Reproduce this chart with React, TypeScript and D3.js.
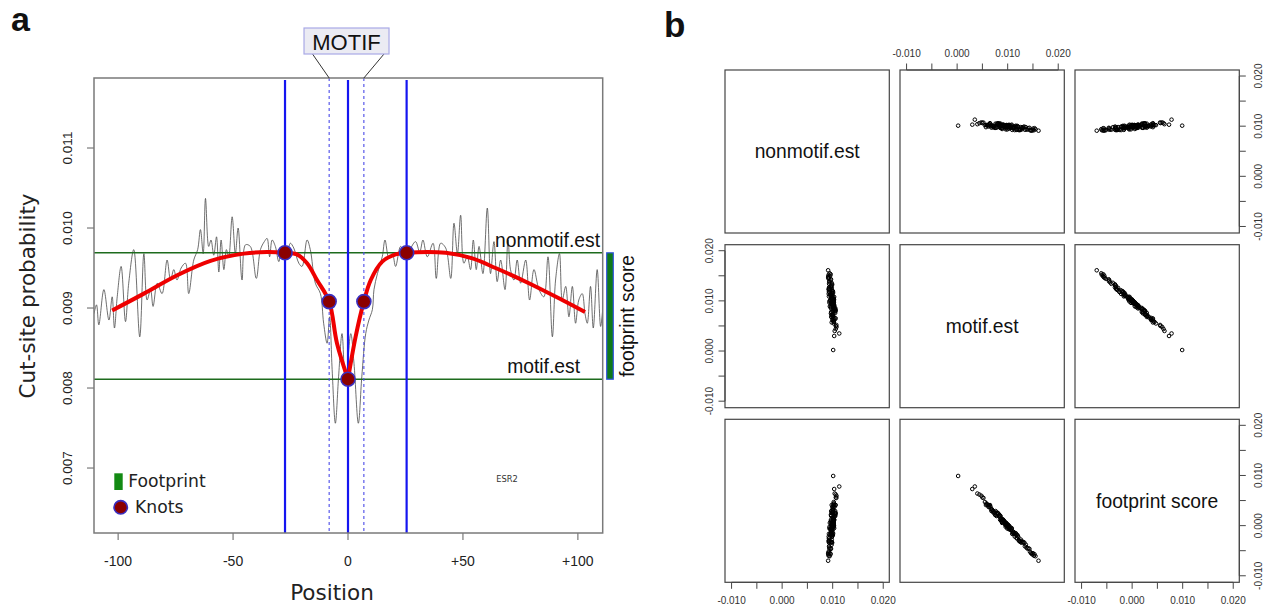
import React from 'react';
import * as d3 from 'd3';

// ---------- Panel a data ----------
const grayPos = [
  -110.5, -109.4, -108.4, -106.2, -104.0, -102.6, -101.6, -100.4, -98.7, -96.8, -95.4, -93.2, -90.6, -88.8, -87.4, -85.9,
  -84.8, -83.0, -80.9, -78.7, -77.2, -75.8, -74.4, -72.6, -70.7, -69.3, -67.1, -65.4, -64.2, -63.0, -62.0, -60.6,
  -59.6, -58.4, -57.2, -56.2, -55.2, -54.0, -52.9, -51.9, -50.4, -49.0, -47.8, -46.1, -44.6, -42.5, -39.9, -38.1,
  -36.4, -35.2, -34.1, -33.0, -31.6, -30.1, -28.7, -26.5, -25.1, -23.6, -21.4, -20.0, -17.8, -16.4, -14.2, -12.0,
  -10.6, -9.1, -8.0, -6.9, -5.5, -4.1, -2.6, -1.1,
  1.2, 2.6, 4.5, 6.0, 7.7, 9.1, 10.6, 11.3, 12.8, 14.9, 16.1, 17.8, 19.3, 20.7, 22.9, 25.1, 27.3, 29.4, 31.2, 32.6,
  34.5, 37.0, 38.4, 40.3, 42.5, 44.7, 46.1, 47.6, 49.0, 50.4, 51.9, 53.3, 54.5, 55.8, 57.0, 58.7, 60.6, 62.0, 63.5,
  64.9, 66.4, 68.3, 69.6, 70.7, 72.2, 73.6, 75.1, 77.3, 79.0, 80.9, 83.1, 85.2, 87.0, 88.9, 90.3, 92.0, 93.2, 94.7,
  96.1, 97.6, 99.0, 100.4, 101.9, 103.1, 104.1, 105.5, 106.7, 108.4, 109.9, 110.8,
];
const grayVal = [
  0.00893, 0.00904, 0.00879, 0.00923, 0.00885, 0.00914, 0.00875, 0.00914, 0.00952, 0.00883, 0.00931, 0.00973, 0.00864,
  0.00968, 0.0091, 0.00923, 0.00902, 0.00931, 0.00918, 0.0096, 0.00935, 0.00948, 0.00935, 0.0095, 0.00956, 0.00918,
  0.0096, 0.00973, 0.00998, 0.00968, 0.01037, 0.00977, 0.00985, 0.00966, 0.00989, 0.00945, 0.00985, 0.00948, 0.00973,
  0.00964, 0.01014, 0.00968, 0.01, 0.00935, 0.00979, 0.00977, 0.00937, 0.00973, 0.00983, 0.00987, 0.00964, 0.00985,
  0.00977, 0.00958, 0.00975, 0.0097, 0.00981, 0.00975, 0.00956, 0.00952, 0.00985, 0.00973, 0.00931, 0.00918, 0.00881,
  0.00856, 0.00889, 0.00823, 0.00756, 0.00814, 0.00868, 0.00805,
  0.00868, 0.00831, 0.00756, 0.00814, 0.00868, 0.00885, 0.00898, 0.00923, 0.00943, 0.00964, 0.00985, 0.00962, 0.00968,
  0.00952, 0.00977, 0.00964, 0.00975, 0.00983, 0.0097, 0.00985, 0.00964, 0.00981, 0.00937, 0.00981, 0.00975, 0.00937,
  0.01006, 0.00968, 0.01016, 0.00956, 0.00964, 0.00948, 0.00985, 0.00948, 0.00977, 0.00943, 0.01025, 0.00943, 0.00983,
  0.00933, 0.0096, 0.00923, 0.00985, 0.00948, 0.00935, 0.0096, 0.00931, 0.0096, 0.0091, 0.00948, 0.00923, 0.00914,
  0.00964, 0.00864, 0.00935, 0.00968, 0.0091, 0.00927, 0.00889, 0.00927, 0.00881, 0.0091, 0.00918, 0.00893, 0.00881,
  0.00927, 0.00875, 0.00948, 0.00877, 0.00898,
];
const redPos = [-102.6, -88.8, -74.3, -59.8, -45.4, -35.2, -27.4, -22.2, -17.8, -13.5, -8.2, -4.8, 0, 3.3, 6.9, 9.9, 14.9, 20.7, 25.5, 42.5, 54.1, 64.2, 78.7, 93.2, 103.1];
const redVal = [0.00897, 0.00918, 0.00941, 0.00959, 0.00968, 0.0097, 0.00969, 0.00967, 0.00956, 0.00935, 0.00908, 0.00856, 0.00811, 0.00864, 0.00908, 0.00935, 0.00958, 0.00967, 0.00969, 0.00969, 0.00962, 0.0095, 0.00931, 0.0091, 0.00895];
const knotPos = [-27.4, -8.2, 0, 6.9, 25.5];
const knotVal = [0.00969, 0.00908, 0.00811, 0.00908, 0.00969];
const motifBounds = [-8.2, 6.9];
const nonmotifEst = 0.00969;
const motifEst = 0.00811;
const posTicks = [-100, -50, 0, 50, 100];
const posTickLabels = ['-100', '-50', '0', '+50', '+100'];
const probTicks = [0.007, 0.008, 0.009, 0.01, 0.011];
const probTickLabels = ['0.007', '0.008', '0.009', '0.010', '0.011'];

// ---------- Panel b data (units of 1e-4) ----------
const motifVals = [
  95, 102, 88, 110, 79, 97, 121, 68, 105, 92, 134, 84, 99, 115, 73, 90, 127, 101, 61, 108, 94, 118, 86, 139, 76, 98,
  112, 57, 103, 91, 125, 82, 96, 143, 70, 107, 89, 119, 64, 100, 131, 78, 93, 113, 52, 104, 87, 122, 74, 97, 146, 81,
  109, 66, 95, 128, 85, 116, 59, 101, 136, 72, 92, 111, 48, 106, 83, 124, 69, 99, 149, 80, 114, 63, 96, 130, 77, 105,
  55, 90, 120, 87, 141, 67, 103, 94, 117, 75, 98, 133, 62, 108, 89, 126, 71, 100, 147, 84, 112, 50, 93, 123, 79, 137,
  65, 102, 91, 118, 58, 97, 144, 86, 2, 161, 35, 30, 152, 155, 40, 44, 150, 153,
];
const nonmotifVals = [
  101.6, 95.0, 100.5, 96.0, 104.7, 97.9, 98.4, 97.1, 98.1, 102.7, 92.9, 105.1, 93.5, 99.2, 99.6, 100.0, 93.0, 102.2,
  101.6, 100.9, 101.7, 93.5, 100.7, 93.3, 105.0, 97.8, 99.2, 98.1, 98.3, 102.8, 93.7, 105.3, 93.8, 96.7, 99.9, 98.4,
  96.4, 100.5, 101.3, 101.7, 98.4, 97.1, 100.1, 95.7, 107.2, 97.3, 101.4, 92.3, 100.9, 102.2, 91.8, 105.4, 92.6, 103.6,
  97.6, 96.5, 96.8, 100.8, 101.7, 101.6, 97.9, 97.7, 100.2, 95.9, 107.5, 97.1, 101.8, 92.1, 101.3, 102.0, 91.5, 105.5,
  92.2, 103.9, 97.5, 96.4, 97.5, 101.8, 102.1, 102.6, 99.4, 96.3, 95.8, 99.8, 102.6, 98.2, 98.7, 96.5, 98.7, 99.0,
  99.4, 102.9, 94.4, 98.2, 99.8, 99.1, 91.2, 103.7, 97.0, 106.2, 101.8, 93.1, 101.3, 93.5, 106.0, 97.5, 101.1, 92.6,
  102.3, 102.2, 92.0, 104.9, 101, 91, 113, 103, 92, 94, 104, 106, 95, 96,
];
const footprintVals = [
  6.6, -7.0, 12.5, -14.0, 25.7, 0.9, -22.6, 29.1, -6.9, 10.7, -41.1, 21.1, -5.5, -15.8, 26.6, 10.0, -34.0, 1.2, 40.6,
  -7.1, 7.7, -24.5, 14.7, -45.7, 29.0, -0.2, -12.8, 41.1, -4.7, 11.8, -31.3, 23.3, -2.2, -46.3, 29.9, -8.6, 7.4, -18.5,
  37.3, 1.7, -32.6, 19.1, 7.1, -17.3, 55.2, -6.7, 14.4, -29.7, 26.9, 5.2, -54.2, 24.4, -16.4, 37.6, 2.6, -31.5, 11.8,
  -15.2, 42.7, 0.6, -38.1, 25.7, 8.2, -15.1, 59.5, -8.9, 18.8, -31.9, 32.3, 3.0, -57.5, 25.5, -21.8, 40.9, 1.5, -33.6,
  20.5, -3.2, 47.1, 12.6, -20.6, 9.3, -45.2, 32.8, -0.4, 4.2, -18.3, 21.5, 0.7, -34.0, 37.4, -5.1, 5.4, -27.8, 28.8,
  -0.9, -55.8, 19.7, -15.0, 56.2, 8.8, -29.9, 22.3, -43.5, 41.0, -4.5, 10.1, -25.4, 44.3, 5.2, -52.0, 18.9, 99, -70, 78,
  73, -60, -61, 64, 62, -55, -57,
];
const pairNames = ['nonmotif.est', 'motif.est', 'footprint score'];
const pairTicks = [-0.01, -0.005, 0, 0.005, 0.01, 0.015, 0.02];
const pairLabelTicks = [-0.01, 0, 0.01, 0.02];
const pairTickLabels = ['-0.010', '0.000', '0.010', '0.020'];

const SANS = 'Liberation Sans, Arial, sans-serif';
const DJV = 'DejaVu Sans, sans-serif';

function PanelA() {
  const x = d3.scaleLinear().domain([-110.5, 110.8]).range([94, 602.7]);
  const y = d3.scaleLinear().domain([0.006188, 0.011875]).range([533, 78]);
  const [x0, x1] = x.range();
  const [yb, yt] = y.range();

  const gray = d3
    .line<number>()
    .x((_, i) => x(grayPos[i]))
    .y((d) => y(d))
    .curve(d3.curveCatmullRom.alpha(0.5))(grayVal);

  const redIdx = redPos.map((_, i) => i);
  const redLine = d3
    .line<number>()
    .x((i) => x(redPos[i]))
    .y((i) => y(redVal[i]))
    .curve(d3.curveCatmullRom.alpha(0.5));
  const redLeft = redLine(redIdx.filter((i) => redPos[i] <= 0));
  const redRight = redLine(redIdx.filter((i) => redPos[i] >= 0));

  const solidLines = [knotPos[0], 0, knotPos[4]];
  const motifMid = (x(motifBounds[0]) + x(motifBounds[1])) / 2;
  const boxL = motifMid - 42.5;
  const boxR = motifMid + 42.5;

  return (
    <g>
      <defs>
        <clipPath id="clipA">
          <rect x={x0} y={yt} width={x1 - x0} height={yb - yt} />
        </clipPath>
      </defs>
      <text x={11} y={31} fontFamily={SANS} fontWeight="bold" fontSize={34} fill="#111">a</text>

      {/* gray cut-site profile */}
      <path d={gray || ''} fill="none" stroke="#4a4a4a" strokeWidth={0.8} clipPath="url(#clipA)" />

      {/* estimates */}
      <line x1={x0} x2={x1} y1={y(nonmotifEst)} y2={y(nonmotifEst)} stroke="#1d6b1d" strokeWidth={1.6} />
      <line x1={x0} x2={x1} y1={y(motifEst)} y2={y(motifEst)} stroke="#1d6b1d" strokeWidth={1.6} />

      {/* vertical lines */}
      {solidLines.map((p, i) => (
        <line key={'s' + i} x1={x(p)} x2={x(p)} y1={yt + 2} y2={yb} stroke="#1515f0" strokeWidth={2.2} />
      ))}
      {motifBounds.map((p, i) => (
        <line key={'d' + i} x1={x(p)} x2={x(p)} y1={yt} y2={yb} stroke="#4a4ae8" strokeWidth={1.1} strokeDasharray="3,3" />
      ))}

      {/* red spline */}
      <path d={redLeft || ''} fill="none" stroke="#ee0000" strokeWidth={4} strokeLinejoin="round" />
      <path d={redRight || ''} fill="none" stroke="#ee0000" strokeWidth={4} strokeLinejoin="round" />

      {/* knots */}
      {knotPos.map((p, i) => (
        <circle key={'k' + i} cx={x(p)} cy={y(knotVal[i])} r={7} fill="#8b0000" stroke="#3a2fc0" strokeWidth={1.6} />
      ))}

      {/* box */}
      <rect x={x0} y={yt} width={x1 - x0} height={yb - yt} fill="none" stroke="#7a7a7a" strokeWidth={1.5} />

      {/* x axis */}
      {posTicks.map((t, i) => (
        <g key={'xt' + i}>
          <line x1={x(t)} x2={x(t)} y1={yb} y2={yb + 7} stroke="#7a7a7a" strokeWidth={1.2} />
          <text x={x(t)} y={565.5} textAnchor="middle" fontFamily={SANS} fontSize={14} fill="#222">
            {posTickLabels[i]}
          </text>
        </g>
      ))}
      <text x={332} y={600} textAnchor="middle" fontFamily={DJV} fontSize={21.5} fill="#222">Position</text>

      {/* y axis */}
      {probTicks.map((t, i) => (
        <g key={'yt' + i}>
          <line x1={x0 - 7} x2={x0} y1={y(t)} y2={y(t)} stroke="#7a7a7a" strokeWidth={1.2} />
          <text
            transform={`translate(72,${y(t)}) rotate(-90)`}
            textAnchor="middle"
            fontFamily={SANS}
            fontSize={13.5}
            fill="#222"
          >
            {probTickLabels[i]}
          </text>
        </g>
      ))}
      <text transform="translate(35,296) rotate(-90)" textAnchor="middle" fontFamily={DJV} fontSize={21.5} fill="#222">
        Cut-site probability
      </text>

      {/* labels of estimates */}
      <text x={600} y={246.5} textAnchor="end" fontFamily={SANS} fontSize={19.3} fill="#111">nonmotif.est</text>
      <text x={580} y={373.3} textAnchor="end" fontFamily={SANS} fontSize={19.3} fill="#111">motif.est</text>

      {/* footprint score bar */}
      <rect
        x={606.7}
        y={y(nonmotifEst)}
        width={6.6}
        height={y(motifEst) - y(nonmotifEst)}
        fill="#0f7a1a"
        stroke="#3355e0"
        strokeWidth={1.2}
      />
      <text
        transform={`translate(634,${(y(nonmotifEst) + y(motifEst)) / 2}) rotate(-90)`}
        textAnchor="middle"
        fontFamily={SANS}
        fontSize={19.3}
        fill="#111"
      >
        footprint score
      </text>

      {/* MOTIF callout */}
      <line x1={boxL + 8.5} y1={54} x2={x(motifBounds[0])} y2={yt} stroke="#333" strokeWidth={1} />
      <line x1={boxR - 5} y1={54} x2={x(motifBounds[1])} y2={yt} stroke="#333" strokeWidth={1} />
      <rect x={boxL} y={28} width={boxR - boxL} height={26} fill="#ebebf3" stroke="#a9a9e6" strokeWidth={1.2} />
      <text x={motifMid} y={49.5} textAnchor="middle" fontFamily={SANS} fontSize={22} fill="#111">MOTIF</text>

      {/* ESR2 */}
      <text x={507} y={481.5} textAnchor="middle" fontFamily={DJV} fontSize={8.3} fill="#333">ESR2</text>

      {/* legend */}
      <rect x={114.3} y={473.3} width={8.4} height={16.7} fill="#138a13" />
      <text x={128.3} y={487.3} fontFamily={DJV} fontSize={17.2} fill="#222">Footprint</text>
      <circle cx={120.7} cy={507.3} r={6.7} fill="#8b0000" stroke="#3a2fc0" strokeWidth={1.6} />
      <text x={135} y={513.3} fontFamily={DJV} fontSize={17.2} fill="#222">Knots</text>
    </g>
  );
}

function PanelB() {
  const vars = [nonmotifVals, motifVals, footprintVals].map((arr) => arr.map((v) => v * 1e-4));
  const colX = [725, 900, 1075];
  const rowY = [70, 244.7, 419.3];
  const cw = 164.3;
  const ch = 163;
  const dom: [number, number] = [-0.0113, 0.0212];
  const cells: JSX.Element[] = [];
  for (let r = 0; r < 3; r++) {
    for (let c = 0; c < 3; c++) {
      const sx = d3.scaleLinear().domain(dom).range([colX[c], colX[c] + cw]);
      const sy = d3.scaleLinear().domain(dom).range([rowY[r] + ch, rowY[r]]);
      const key = `${r}-${c}`;
      cells.push(
        <g key={key}>
          <rect x={colX[c]} y={rowY[r]} width={cw} height={ch} fill="none" stroke="#454545" strokeWidth={1.2} />
          {r === c ? (
            <text
              x={colX[c] + cw / 2}
              y={rowY[r] + ch / 2 + 6.8}
              textAnchor="middle"
              fontFamily={SANS}
              fontSize={19.3}
              fill="#111"
            >
              {pairNames[r]}
            </text>
          ) : (
            vars[c].map((v, i) => (
              <circle key={i} cx={sx(v)} cy={sy(vars[r][i])} r={1.8} fill="none" stroke="#000" strokeWidth={1} />
            ))
          )}
        </g>
      );
    }
  }

  const axes: JSX.Element[] = [];
  // top axis (column 2)
  {
    const sx = d3.scaleLinear().domain(dom).range([colX[1], colX[1] + cw]);
    const y0 = rowY[0];
    axes.push(
      <g key="top">
        <line x1={sx(pairTicks[0])} x2={sx(pairTicks[pairTicks.length - 1])} y1={y0} y2={y0} stroke="#454545" />
        {pairTicks.map((t, i) => (
          <line key={i} x1={sx(t)} x2={sx(t)} y1={y0} y2={y0 - 6.5} stroke="#454545" strokeWidth={1} />
        ))}
        {pairLabelTicks.map((t, i) => (
          <text key={'l' + i} x={sx(t)} y={56.7} textAnchor="middle" fontFamily={SANS} fontSize={10} fill="#333">
            {pairTickLabels[i]}
          </text>
        ))}
      </g>
    );
  }
  // bottom axes (columns 1 and 3)
  [0, 2].forEach((c) => {
    const sx = d3.scaleLinear().domain(dom).range([colX[c], colX[c] + cw]);
    const y0 = rowY[2] + ch;
    axes.push(
      <g key={'bot' + c}>
        <line x1={sx(pairTicks[0])} x2={sx(pairTicks[pairTicks.length - 1])} y1={y0} y2={y0} stroke="#454545" />
        {pairTicks.map((t, i) => (
          <line key={i} x1={sx(t)} x2={sx(t)} y1={y0} y2={y0 + 6.5} stroke="#454545" strokeWidth={1} />
        ))}
        {pairLabelTicks.map((t, i) => (
          <text key={'l' + i} x={sx(t)} y={604} textAnchor="middle" fontFamily={SANS} fontSize={10} fill="#333">
            {pairTickLabels[i]}
          </text>
        ))}
      </g>
    );
  });
  // left axis (row 2)
  {
    const sy = d3.scaleLinear().domain(dom).range([rowY[1] + ch, rowY[1]]);
    const x0 = colX[0];
    axes.push(
      <g key="left">
        <line x1={x0} x2={x0} y1={sy(pairTicks[0])} y2={sy(pairTicks[pairTicks.length - 1])} stroke="#454545" />
        {pairTicks.map((t, i) => (
          <line key={i} x1={x0} x2={x0 - 6.5} y1={sy(t)} y2={sy(t)} stroke="#454545" strokeWidth={1} />
        ))}
        {pairLabelTicks.map((t, i) => (
          <text
            key={'l' + i}
            transform={`translate(712.7,${sy(t)}) rotate(-90)`}
            textAnchor="middle"
            fontFamily={SANS}
            fontSize={10}
            fill="#333"
          >
            {pairTickLabels[i]}
          </text>
        ))}
      </g>
    );
  }
  // right axes (rows 1 and 3)
  [0, 2].forEach((r) => {
    const sy = d3.scaleLinear().domain(dom).range([rowY[r] + ch, rowY[r]]);
    const x0 = colX[2] + cw;
    axes.push(
      <g key={'right' + r}>
        <line x1={x0} x2={x0} y1={sy(pairTicks[0])} y2={sy(pairTicks[pairTicks.length - 1])} stroke="#454545" />
        {pairTicks.map((t, i) => (
          <line key={i} x1={x0} x2={x0 + 6.5} y1={sy(t)} y2={sy(t)} stroke="#454545" strokeWidth={1} />
        ))}
        {pairLabelTicks.map((t, i) => (
          <text
            key={'l' + i}
            transform={`translate(1261.5,${sy(t)}) rotate(-90)`}
            textAnchor="middle"
            fontFamily={SANS}
            fontSize={10}
            fill="#333"
          >
            {pairTickLabels[i]}
          </text>
        ))}
      </g>
    );
  });

  return (
    <g>
      <text x={664} y={36.7} fontFamily={SANS} fontWeight="bold" fontSize={35} fill="#111">b</text>
      {cells}
      {axes}
    </g>
  );
}

export default function App() {
  return (
    <svg
      width={1266}
      height={607}
      viewBox="0 0 1266 607"
      style={{ position: 'absolute', left: 0, top: 0, background: '#fff', display: 'block' }}
    >
      <rect x={0} y={0} width={1266} height={607} fill="#fff" />
      <PanelA />
      <PanelB />
    </svg>
  );
}
